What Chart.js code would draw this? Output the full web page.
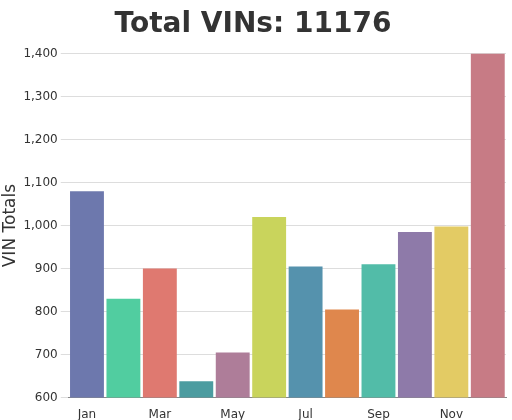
<!DOCTYPE html>
<html lang="en">
<head>
<meta charset="UTF-8">
<title>Total VINs</title>
<script src="https://cdn.jsdelivr.net/npm/chart.js"></script>
<style>
  body { margin: 0; background: #fff; }
  #wrap { width: 512px; height: 420px; }
</style>
</head>
<body>
<div id="wrap"><canvas id="chart"></canvas></div>
<script>
// Monthly VIN totals
const months = ['Jan', 'Feb', 'Mar', 'Apr', 'May', 'Jun', 'Jul', 'Aug', 'Sep', 'Oct', 'Nov', 'Dec'];
const vinTotals = [1080, 830, 900, 638, 705, 1020, 905, 805, 910, 985, 998, 1400];
const barColors = ['#6d78ad', '#51cda0', '#df7970', '#4c9ca0', '#ae7d99', '#c9d45c',
                   '#5592ad', '#df874d', '#52bca8', '#8e7aa9', '#e3cb64', '#c77b85'];
const tickFont = { family: 'DejaVu Sans', size: 12 };

new Chart(document.getElementById('chart'), {
    type: 'bar',
    data: {
        labels: months,
        datasets: [{
            data: vinTotals,
            backgroundColor: barColors,
            borderWidth: 0,
            categoryPercentage: 0.93,
            barPercentage: 1.0
        }]
    },
    options: {
        responsive: true,
        maintainAspectRatio: false,
        animation: false,
        layout: { padding: { left: 0, right: 6, bottom: -4 } },
        plugins: {
            legend: { display: false },
            tooltip: { enabled: false },
            title: {
                display: true,
                text: 'Total VINs: 11176',
                color: '#333',
                font: { family: 'DejaVu Sans', size: 28, weight: 'bold' },
                padding: { top: 8, bottom: 12 }
            }
        },
        scales: {
            x: {
                grid: { display: false },
                border: { color: '#888' },
                ticks: {
                    color: '#333', font: tickFont, maxRotation: 0, padding: 2,
                    callback: (v, i) => i % 2 === 0 ? months[i] : ''
                }
            },
            y: {
                min: 600,
                max: 1400,
                border: { display: false },
                grid: { color: '#ddd' },
                title: { display: true, text: 'VIN Totals', color: '#333', padding: 0,
                         font: { family: 'DejaVu Sans', size: 17 } },
                ticks: { stepSize: 100, color: '#333', font: tickFont, padding: 3,
                         callback: v => v.toLocaleString('en-US') }
            }
        }
    }
});
</script>
</body>
</html>
